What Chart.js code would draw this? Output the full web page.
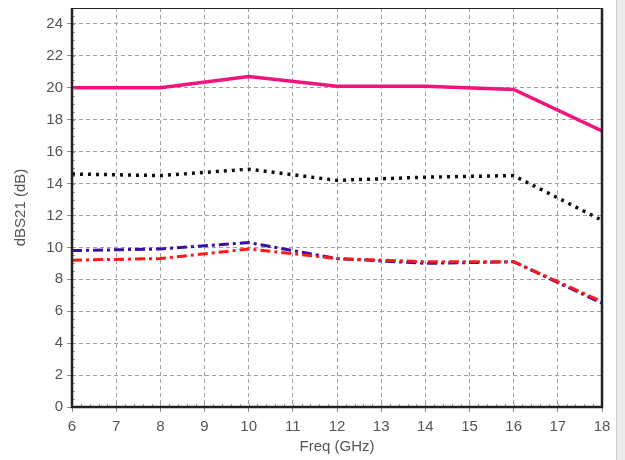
<!DOCTYPE html>
<html lang="en">
<head>
    <meta charset="UTF-8">
    <title>dBS21 vs Freq</title>
    <style>
        html, body { margin: 0; padding: 0; background: #fff; }
        .chart { position: relative; width: 625px; height: 460px; }
    </style>
</head>
<body>
    <div class="chart">
        <canvas id="s21Chart" width="625" height="460"></canvas>
    </div>

    <script src="https://cdn.jsdelivr.net/npm/chart.js"></script>
    <script>
        const freqs = [6, 8, 10, 12, 14, 16, 18];
        const pinkSeries = [20.0, 20.0, 20.7, 20.1, 20.1, 19.9, 17.3];
        const blackSeries = [14.6, 14.5, 14.9, 14.2, 14.4, 14.5, 11.7];
        const blueSeries = [9.8, 9.9, 10.3, 9.3, 9.0, 9.1, 6.5];
        const redSeries = [9.2, 9.3, 9.9, 9.3, 9.1, 9.1, 6.6];
        const xTicks = [6, 7, 8, 9, 10, 11, 12, 13, 14, 15, 16, 17, 18];
        const yTicks = [0, 2, 4, 6, 8, 10, 12, 14, 16, 18, 20, 22, 24];

        const toPoints = (ys) => freqs.map((f, i) => ({ x: f, y: ys[i] }));

        // frame, minor ticks and the grey window strip on the right
        const framePlugin = {
            id: 'frame',
            beforeDraw(chart) {
                const c = chart.ctx;
                c.save();
                c.fillStyle = '#ebebeb';
                c.fillRect(616, 0, 9, 460);
                c.fillStyle = '#d0d0d0';
                c.fillRect(616, 0, 1, 460);
                c.restore();
            },
            afterDatasetsDraw(chart) {
                const { ctx: c, chartArea: a, scales } = chart;
                c.save();
                c.strokeStyle = '#999';
                c.lineWidth = 1;
                for (let v = 6; v <= 18.001; v += 0.2) {
                    const px = Math.round(scales.x.getPixelForValue(v)) + 0.5;
                    c.beginPath();
                    c.moveTo(px, a.bottom);
                    c.lineTo(px, a.bottom - 3);
                    c.stroke();
                }
                for (let v = 0; v <= 25; v += 0.5) {
                    const py = Math.round(scales.y.getPixelForValue(v)) + 0.5;
                    c.beginPath();
                    c.moveTo(a.left, py);
                    c.lineTo(a.left + 3, py);
                    c.stroke();
                }
                c.strokeStyle = '#222';
                c.lineWidth = 1;
                c.strokeRect(a.left + 0.5, a.top + 0.5, a.right - a.left, a.bottom - a.top);
                c.lineWidth = 2.5;
                c.beginPath();
                c.moveTo(a.left, a.top);
                c.lineTo(a.left, a.bottom);
                c.lineTo(a.right, a.bottom);
                c.lineTo(a.right, a.top);
                c.stroke();
                c.restore();
            }
        };

        const gridStyle = {
            color: '#a0a0a0',
            lineWidth: 1,
            tickLength: 5,
            tickColor: '#888'
        };

        new Chart(document.getElementById('s21Chart'), {
            type: 'line',
            data: {
                datasets: [
                    {
                        label: 'pink',
                        data: toPoints(pinkSeries),
                        borderColor: '#f0147c',
                        borderWidth: 3.5
                    },
                    {
                        label: 'black',
                        data: toPoints(blackSeries),
                        borderColor: '#111',
                        borderWidth: 3.5,
                        borderDash: [3, 5]
                    },
                    {
                        label: 'red',
                        data: toPoints(redSeries),
                        borderColor: '#ff1a1a',
                        borderWidth: 3,
                        borderDash: [10, 4, 3, 4]
                    },
                    {
                        label: 'blue',
                        data: toPoints(blueSeries),
                        borderColor: '#3b0fa0',
                        borderWidth: 3,
                        borderDash: [10, 4, 3, 4]
                    }
                ]
            },
            options: {
                responsive: false,
                animation: false,
                elements: {
                    point: { radius: 0 },
                    line: { tension: 0 }
                },
                layout: { padding: { top: 8, right: 23, left: 0, bottom: 0 } },
                plugins: {
                    legend: { display: false },
                    tooltip: { enabled: false }
                },
                scales: {
                    x: {
                        type: 'linear',
                        min: 6,
                        max: 18,
                        afterBuildTicks: (s) => { s.ticks = xTicks.map(v => ({ value: v })); },
                        afterFit: (s) => { s.height = 53; },
                        border: { display: false, dash: [4, 3] },
                        grid: gridStyle,
                        ticks: {
                            color: '#555',
                            padding: 6,
                            maxRotation: 0,
                            font: { family: 'Liberation Sans', size: 15 }
                        },
                        title: {
                            display: true,
                            text: 'Freq (GHz)',
                            color: '#555',
                            padding: { top: 0 },
                            font: { family: 'Liberation Sans', size: 15 }
                        }
                    },
                    y: {
                        min: 0,
                        max: 25,
                        afterBuildTicks: (s) => { s.ticks = yTicks.map(v => ({ value: v })); },
                        afterFit: (s) => {
                            s.width = 72;
                            s.paddingTop = 0;
                            s.paddingBottom = 0;
                        },
                        border: { display: false, dash: [4, 3] },
                        grid: gridStyle,
                        ticks: {
                            color: '#555',
                            padding: 4,
                            font: { family: 'Liberation Sans', size: 15 }
                        },
                        title: {
                            display: true,
                            text: 'dBS21 (dB)',
                            color: '#555',
                            padding: { top: 12, bottom: 4 },
                            font: { family: 'Liberation Sans', size: 15 }
                        }
                    }
                }
            },
            plugins: [framePlugin]
        });
    </script>
</body>
</html>
